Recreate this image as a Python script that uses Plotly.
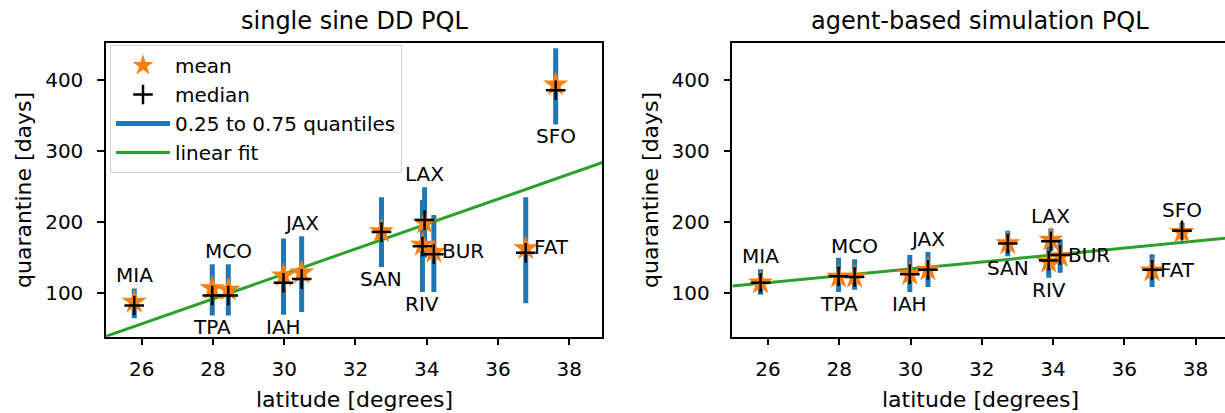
import plotly.graph_objects as go

# ---------------- data ----------------
airports = ["MIA", "TPA", "MCO", "IAH", "JAX", "SAN", "LAX", "RIV", "BUR", "FAT", "SFO"]
latitude = [25.79, 27.98, 28.43, 29.98, 30.49, 32.73, 33.94, 33.88, 34.20, 36.78, 37.62]

# single sine DD PQL
dd_mean = [88, 107, 105, 125, 129, 187, 199, 168, 158, 163, 393]
dd_median = [83, 97, 97, 115, 120, 186, 203, 166, 155, 157, 385]
dd_q25 = [65, 69, 69, 70, 74, 137, 150, 102, 102, 86, 337]
dd_q75 = [107, 141, 141, 177, 180, 235, 249, 231, 210, 235, 444]
dd_label_pos = ["top", "bottom", "top", "bottom", "top", "bottom", "top", "bottom", "right", "right", "bottom"]

# agent-based simulation PQL
abs_mean = [115, 123, 123, 127, 133, 170, 175, 144, 152, 132, 186]
abs_median = [115, 124, 123, 127, 133, 170, 173, 146, 154, 133, 188]
abs_q25 = [98, 102, 105, 102, 109, 152, 160, 122, 129, 109, 176]
abs_q75 = [134, 150, 148, 154, 158, 188, 191, 165, 176, 155, 199]
abs_label_pos = ["top", "bottom", "top", "bottom", "top", "bottom", "top", "bottom", "right", "right", "top"]

# linear fit lines (value at the two x ends)
fit_x = [25, 39]
dd_fit = [39.8, 284.8]
abs_fit = [110.2, 178.1]

titles = ["single sine DD PQL", "agent-based simulation PQL"]
x_title = "latitude [degrees]"
y_title = "quarantine [days]"
y_ticks = [100, 200, 300, 400]
x_ticks = [26, 28, 30, 32, 34, 36, 38]

# ---------------- layout helpers ----------------
W, H = 1225, 413
FONT = "DejaVu Sans"
BLUE, ORANGE, GREEN = "#1f77b4", "#ff7f0e", "#2ca02c"


def fx(p):
    return p / W


def fy(p):
    return 1 - p / H


plot_top, plot_bot = 43.3, 336.7
left_px = (106.1, 602.0)
right_px = (732.4, 1225.0)
ppd = (left_px[1] - left_px[0]) / (38.92 - 25)  # pixels per degree

fig = go.Figure()

panels = [
    ("x", "y", dd_mean, dd_median, dd_q25, dd_q75, dd_fit, dd_label_pos, True),
    ("x2", "y2", abs_mean, abs_median, abs_q25, abs_q75, abs_fit, abs_label_pos, False),
]

annotations = []
for xa, ya, mean, median, q25, q75, fit, lpos, show in panels:
    bx, by = [], []
    for lat, lo, hi in zip(latitude, q25, q75):
        bx += [lat, lat, None]
        by += [lo, hi, None]
    fig.add_trace(go.Scatter(x=bx, y=by, mode="lines", xaxis=xa, yaxis=ya,
                             line=dict(color=BLUE, width=5),
                             name="0.25 to 0.75 quantiles", showlegend=show, legendrank=3))
    fig.add_trace(go.Scatter(x=fit_x, y=fit, mode="lines", xaxis=xa, yaxis=ya,
                             line=dict(color=GREEN, width=3),
                             name="linear fit", showlegend=show, legendrank=4))
    fig.add_trace(go.Scatter(x=latitude, y=mean, mode="markers", xaxis=xa, yaxis=ya,
                             marker=dict(symbol="star", size=19, color=ORANGE, line=dict(width=0)),
                             name="mean", showlegend=show, legendrank=1))
    fig.add_trace(go.Scatter(x=latitude, y=median, mode="markers", xaxis=xa, yaxis=ya,
                             marker=dict(symbol="cross-thin", size=14,
                                         line=dict(color="black", width=2.5)),
                             name="median", showlegend=show, legendrank=2))
    for name, lat, m, lo, hi, pos in zip(airports, latitude, mean, q25, q75, lpos):
        a = dict(text=name, xref=xa, yref=ya, showarrow=False,
                 font=dict(family=FONT, size=20, color="black"))
        if pos == "top":
            a.update(x=lat, y=hi, xanchor="center", yanchor="middle", yshift=13)
        elif pos == "bottom":
            a.update(x=lat, y=lo, xanchor="center", yanchor="middle", yshift=-12)
        else:
            a.update(x=lat, y=m, xanchor="left", yanchor="middle", xshift=6, yshift=1)
        annotations.append(a)

# titles and axis titles
for (l, r), t, ytx in [(left_px, titles[0], 23), (right_px, titles[1], 650)]:
    cx = (l + (l + (38.92 - 25) * ppd)) / 2
    annotations.append(dict(text=t, x=fx(cx), y=fy(21), xref="paper", yref="paper",
                            showarrow=False, xanchor="center", yanchor="middle",
                            font=dict(family=FONT, size=24, color="black")))
    annotations.append(dict(text=x_title, x=fx(cx), y=fy(399), xref="paper", yref="paper",
                            showarrow=False, xanchor="center", yanchor="middle",
                            font=dict(family=FONT, size=22, color="black")))
    annotations.append(dict(text=y_title, x=fx(ytx), y=fy((plot_top + plot_bot) / 2),
                            xref="paper", yref="paper", textangle=-90,
                            showarrow=False, xanchor="center", yanchor="middle",
                            font=dict(family=FONT, size=22, color="black")))

axis_common = dict(showgrid=False, zeroline=False, showline=True, linecolor="black",
                   linewidth=1.5, ticks="outside", ticklen=7, tickwidth=1.5,
                   tickcolor="black", tickfont=dict(family=FONT, size=20, color="black"))

ydom = [fy(plot_bot), fy(plot_top)]
right_range_end = 25 + (right_px[1] - right_px[0]) / ppd

fig.update_layout(
    width=W, height=H, margin=dict(l=0, r=0, t=0, b=0),
    paper_bgcolor="white", plot_bgcolor="white",
    font=dict(family=FONT, size=20, color="black"),
    xaxis=dict(domain=[fx(left_px[0]), fx(left_px[1])], range=[25, 38.92],
               tickvals=x_ticks, mirror=True, anchor="y", ticklabelstandoff=7, **axis_common),
    yaxis=dict(domain=ydom, range=[39.2, 450.9], tickvals=y_ticks, mirror=True,
               anchor="x", ticklabelstandoff=10, **axis_common),
    xaxis2=dict(domain=[fx(right_px[0]), 1.0], range=[25, right_range_end],
                tickvals=x_ticks, mirror=True, anchor="y2", ticklabelstandoff=7, **axis_common),
    yaxis2=dict(domain=ydom, range=[39.2, 450.9], tickvals=y_ticks, mirror=False,
                anchor="x2", ticklabelstandoff=10, **axis_common),
    legend=dict(x=fx(110), y=fy(45), xanchor="left", yanchor="top",
                bgcolor="rgba(255,255,255,0.8)", bordercolor="#d0d0d0", borderwidth=1,
                font=dict(family=FONT, size=20, color="black"),
                itemwidth=54, tracegroupgap=0),
    annotations=annotations,
    showlegend=True,
)

fig.write_html(
    "out.html",
    config={"displayModeBar": False},
    post_script="document.body.style.margin='0';document.body.style.overflow='hidden';",
)
